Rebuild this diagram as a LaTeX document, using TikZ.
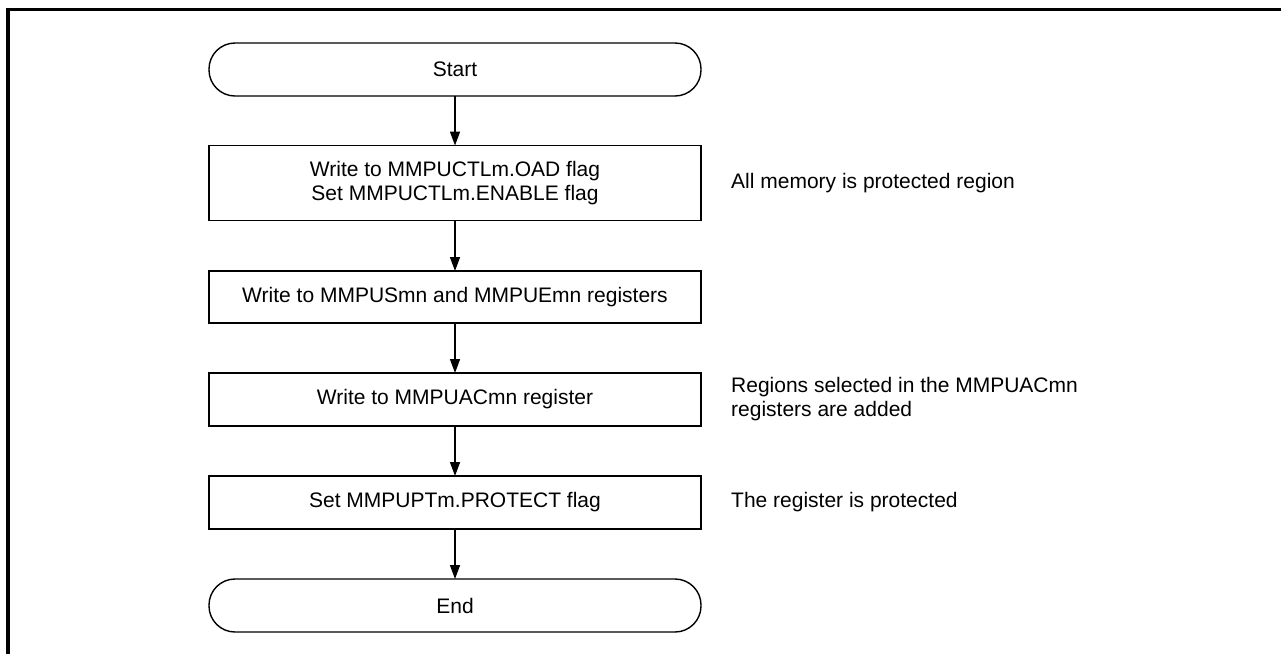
\documentclass[tikz,border=0pt]{standalone}
\usepackage{fontspec}
\setmainfont{Liberation Sans}
\usetikzlibrary{arrows.meta}
\begin{document}
\begin{tikzpicture}[x=1pt,y=-1pt,
  font=\fontsize{21}{24}\selectfont,
  procbox/.style={draw, line width=1.6pt, minimum width=492pt, minimum height=53pt, inner sep=0pt, outer sep=0pt, align=center},
  termbox/.style={procbox, line width=1.4pt, rounded corners=26pt},
  flowarrow/.style={draw, line width=1.5pt, -{Triangle[length=14pt,width=10pt]}},
  note/.style={anchor=west, align=left, inner sep=0pt}
]
\useasboundingbox (0,0) rectangle (1281,654);
\draw[line width=3.5pt, line join=miter] (8,654) -- (8,9.5) -- (1281,9.5);

\node[termbox] (start) at (455,69.5) {Start};
\node[procbox, minimum height=75pt] (b1) at (455,183) {Write to MMPUCTLm.OAD flag\\Set MMPUCTLm.ENABLE flag};
\node[procbox, minimum height=52pt] (b2) at (455,297) {Write to MMPUSmn and MMPUEmn registers};
\node[procbox] (b3) at (455,399.5) {Write to MMPUACmn register};
\node[procbox] (b4) at (455,502.5) {Set MMPUPTm.PROTECT flag};
\node[termbox] (end) at (455,605.5) {End};

\draw[flowarrow] (start) -- (b1);
\draw[flowarrow] (b1) -- (b2);
\draw[flowarrow] (b2) -- (b3);
\draw[flowarrow] (b3) -- (b4);
\draw[flowarrow] (b4) -- (end);

\node[note] (n1) at (731,183) {All memory is protected region};
\node[note] (n3) at (731,399.5) {Regions selected in the MMPUACmn\\registers are added};
\node[note] (n4) at (731,502.5) {The register is protected};
\end{tikzpicture}
\end{document}
